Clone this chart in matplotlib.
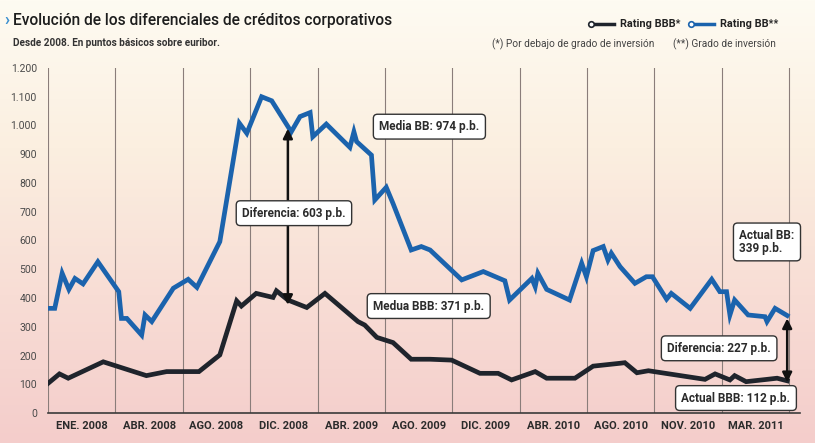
import numpy as np
import matplotlib
matplotlib.use('Agg')
import matplotlib.pyplot as plt
from matplotlib.colors import LinearSegmentedColormap

# data (x = position in periods between gridlines, y = basis points)
bb_x = [0.00, 0.10, 0.21, 0.31, 0.40, 0.52, 0.74, 1.05, 1.09, 1.17, 1.39, 1.44, 1.54,
        1.86, 2.08, 2.21, 2.55, 2.84, 2.95, 3.17, 3.32, 3.61, 3.74, 3.89, 3.93, 4.13,
        4.48, 4.54, 4.58, 4.80, 4.85, 5.02, 5.12, 5.39, 5.54, 5.67, 6.14, 6.46, 6.78,
        6.85, 7.18, 7.23, 7.27, 7.40, 7.74, 7.92, 7.99, 8.09, 8.24, 8.31, 8.36, 8.49,
        8.71, 8.88, 8.97, 9.18, 9.25, 9.53, 9.85, 9.97, 10.07, 10.12, 10.19, 10.39,
        10.64, 10.67, 10.79, 10.97]
bb_y = [364, 364, 486, 430, 468, 449, 526, 422, 329, 329, 271, 341, 318,
        434, 465, 437, 596, 1008, 973, 1100, 1086, 978, 1031, 1045, 961, 1005,
        924, 978, 944, 897, 741, 785, 729, 567, 579, 567, 463, 492, 460,
        393, 468, 439, 486, 430, 393, 521, 474, 565, 579, 532, 556, 509,
        451, 474, 474, 396, 416, 364, 465, 422, 422, 341, 393, 341,
        335, 318, 364, 339]

bbb_x = [0.00, 0.17, 0.30, 0.82, 1.46, 1.76, 2.24, 2.55, 2.80, 2.87, 3.09, 3.34, 3.39,
         3.56, 3.84, 4.11, 4.60, 4.70, 4.88, 5.12, 5.39, 5.67, 5.99, 6.41, 6.68, 6.88,
         7.23, 7.40, 7.82, 8.09, 8.49, 8.56, 8.74, 8.91, 9.33, 9.75, 9.90, 10.12,
         10.19, 10.36, 10.67, 10.82, 10.97]
bbb_y = [103, 136, 121, 178, 130, 144, 144, 202, 390, 372, 416, 402, 425,
         393, 367, 416, 318, 306, 263, 245, 187, 187, 184, 138, 138, 115,
         144, 121, 121, 163, 173, 175, 140, 147, 132, 117, 136, 115,
         130, 109, 117, 121, 112]

month_labels = ['ENE. 2008', 'ABR. 2008', 'AGO. 2008', 'DIC. 2008', 'ABR. 2009', 'AGO. 2009',
                'DIC. 2009', 'ABR. 2010', 'AGO. 2010', 'NOV. 2010', 'MAR. 2011']
yticks = [0, 100, 200, 300, 400, 500, 600, 700, 800, 900, 1000, 1100, 1200]
ytick_labels = ['0', '100', '200', '300', '400', '500', '600', '700', '800', '900',
                '1.000', '1.100', '1.200']

bb_mean = 974
bbb_mean = 371
bb_now = 339
bbb_now = 112
mean_x = 3.56

narrow = ['Roboto', 'DejaVu Sans']
blue = '#1b63ad'
dark = '#1f242c'
txt = '#2b2b2b'

fig = plt.figure(figsize=(8.15, 4.43), dpi=100)

# background gradient cream -> pink
bg = fig.add_axes([0, 0, 1, 1])
grad = np.linspace(0, 1, 256).reshape(-1, 1)
cmap = LinearSegmentedColormap.from_list('bg', ['#fefbf2', '#fbefe0', '#f8ddd5', '#f4cdcb'])
bg.imshow(grad, aspect='auto', cmap=cmap, extent=[0, 1, 0, 1], origin='upper')
bg.axis('off')

ax = fig.add_axes([48 / 815, 30 / 443, 752 / 815, 345 / 443])
ax.patch.set_alpha(0)
ax.set_xlim(0, 11.16)
ax.set_ylim(0, 1200)

for i in range(12):
    ax.axvline(i, color='#8a7d7a', lw=0.8, zorder=1)

ax.plot(bb_x, bb_y, color=blue, lw=3.4, solid_joinstyle='miter', zorder=3)
ax.plot(bbb_x, bbb_y, color=dark, lw=3.4, solid_joinstyle='miter', zorder=3)

for s in ['top', 'right', 'left']:
    ax.spines[s].set_visible(False)
ax.spines['bottom'].set_color('#3a3a3a')
ax.spines['bottom'].set_linewidth(1.2)

ax.set_yticks(yticks)
ax.set_yticklabels(ytick_labels, family=narrow, fontsize=7.5, color='#4a4a4a')
ax.set_xticks(np.arange(len(month_labels)) + 0.5)
ax.set_xticklabels(month_labels, family=narrow, fontsize=8, fontweight='bold', color=txt)
ax.tick_params(axis='both', length=0)
ax.tick_params(axis='y', pad=8)
ax.tick_params(axis='x', pad=6)

box = dict(boxstyle='round,pad=0.5,rounding_size=0.35', fc='white', ec='#333333', lw=1.0)
akw = dict(family=narrow, fontsize=8.5, fontweight='bold', color=txt, zorder=6)

# arrows
arrow = dict(arrowstyle='<|-|>', color='#111111', lw=1.8, mutation_scale=14, shrinkA=0, shrinkB=0)
ax.annotate('', xy=(mean_x, bb_mean + 15), xytext=(mean_x, bbb_mean + 5), arrowprops=arrow, zorder=5)
ax.annotate('', xy=(bb_x[-1], bb_now - 10), xytext=(bb_x[-1], bbb_now - 5), arrowprops=arrow, zorder=5)

ax.text(5.66, 996, 'Media BB: 974 p.b.', ha='center', va='center', bbox=box, **akw)
ax.text(3.65, 695, 'Diferencia: 603 p.b.', ha='center', va='center', bbox=box, **akw)
ax.text(5.65, 372, 'Medua BBB: 371 p.b.', ha='center', va='center', bbox=box, **akw)
ax.text(10.67, 595, 'Actual BB:\n339 p.b.', ha='center', va='center', multialignment='left',
        bbox=box, linespacing=1.0, **akw)
ax.text(9.96, 225, 'Diferencia: 227 p.b.', ha='center', va='center', bbox=box, **akw)
ax.text(10.21, 52, 'Actual BBB: 112 p.b.', ha='center', va='center', bbox=box, **akw)

# titles
fig.text(4 / 815, 1 - 21 / 443, '›', color='#3a8fd0', fontsize=12, fontweight='bold',
         va='center', family=narrow)
fig.text(13 / 815, 1 - 21 / 443, 'Evolución de los diferenciales de créditos corporativos',
         family=narrow, fontsize=11.2, fontweight='medium', color='#1d1d1d', va='center')
fig.text(13 / 815, 1 - 43 / 443, 'Desde 2008. En puntos básicos sobre euribor.',
         family=narrow, fontsize=7.2, fontweight='bold', color='#333333', va='center')

# legend
ly = 1 - 24 / 443
for x0, col, lab in [(588, dark, 'Rating BBB*'), (688, blue, 'Rating BB**')]:
    fig.add_artist(plt.Line2D([(x0 + 3) / 815, (x0 + 26) / 815], [ly, ly], color=col, lw=2.5))
    fig.add_artist(plt.Line2D([(x0 + 3) / 815], [ly], marker='o', ms=4, mfc='white', mec=col,
                              mew=1.2, lw=0))
    fig.text((x0 + 32) / 815, ly, lab, family=narrow, fontsize=7.8, fontweight='bold',
             color='#222222', va='center')
fig.text(492 / 815, 1 - 44 / 443, '(*) Por debajo de grado de inversión', family=narrow,
         fontsize=7.3, color='#444444', va='center')
fig.text(673 / 815, 1 - 44 / 443, '(**) Grado de inversión', family=narrow,
         fontsize=7.3, color='#444444', va='center')

fig.savefig('out.png', dpi=100)
